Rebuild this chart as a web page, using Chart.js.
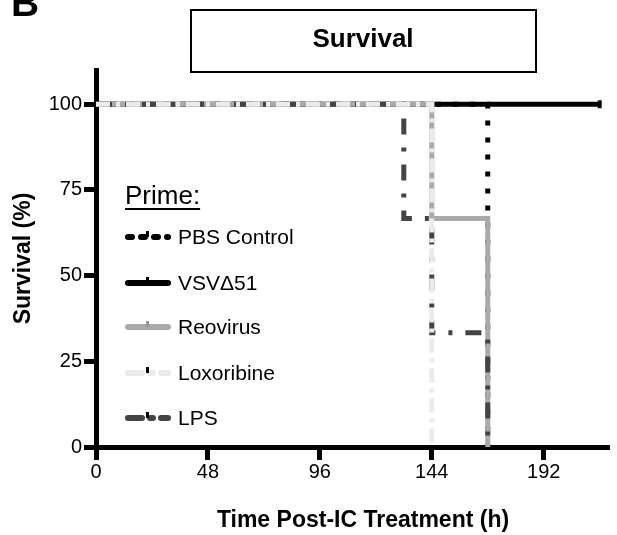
<!DOCTYPE html>
<html>
<head>
<meta charset="utf-8">
<script src="https://cdn.jsdelivr.net/npm/chart.js@4.4.1/dist/chart.umd.min.js"></script>
<style>
  html, body { margin: 0; padding: 0; background: #fff; }
  #wrap { width: 617px; height: 535px; position: relative; }
</style>
</head>
<body>
<div id="wrap"><canvas id="survChart" width="617" height="535"></canvas></div>
<script>
// survival curves (Kaplan-Meier style, % alive)
const seriesNames = ["PBS Control", "VSV\u039451", "Reovirus", "Loxoribine", "LPS"];
const pbsTime = [0, 168];
const pbsSurv = [100, 0];
const vsvTime = [0, 216];
const vsvSurv = [100, 100];
const reoTime = [0, 144, 168];
const reoSurv = [100, 66.7, 0];
const loxTime = [0, 144];
const loxSurv = [100, 0];
const lpsTime = [0, 132, 144, 168];
const lpsSurv = [100, 66.7, 33.3, 0];
const xTicks = [0, 48, 96, 144, 192];
const yTicks = [0, 25, 50, 75, 100];

function pts(t, s) {
    return t.map(function (v, i) { return { x: v, y: s[i] }; });
}

const styles = [
    { color: "#000000", dash: [5, 12], order: 4 },
    { color: "#000000", dash: [], order: 5 },
    { color: "#aaaaaa", dash: [], order: 3 },
    { color: "#ebebeb", dash: [14, 6, 4, 6], order: 1 },
    { color: "#444444", dash: [16, 13, 4, 13], order: 2 }
];
const allData = [pbsTime, vsvTime, reoTime, loxTime, lpsTime].map(function (t, i) {
    return pts(t, [pbsSurv, vsvSurv, reoSurv, loxSurv, lpsSurv][i]);
});

const datasets = seriesNames.map(function (name, i) {
    const st = styles[i];
    return {
        label: name,
        data: allData[i],
        borderColor: st.color,
        borderDash: st.dash,
        borderWidth: 5,
        stepped: true,
        fill: false,
        order: st.order,
        pointRadius: i === 1 ? [0, 4] : 0,
        pointStyle: "line",
        rotation: 90,
        pointBorderWidth: 4,
        pointBorderColor: st.color
    };
});

const FONT = "'Liberation Sans', Arial, sans-serif";

// title box, panel letter, x title and the in-plot legend
const decorPlugin = {
    id: "decor",
    afterDraw: function (chart) {
        const ctx = chart.ctx;
        ctx.save();
        ctx.fillStyle = "#000";
        ctx.font = "bold 39px " + FONT;
        ctx.textAlign = "left";
        ctx.textBaseline = "alphabetic";
        ctx.fillText("B", 11, 16);

        ctx.lineWidth = 2;
        ctx.strokeStyle = "#000";
        ctx.strokeRect(191, 10, 345, 62);
        ctx.font = "bold 26px " + FONT;
        ctx.textAlign = "center";
        ctx.textBaseline = "middle";
        ctx.fillText("Survival", 363, 40);

        ctx.font = "bold 23px " + FONT;
        ctx.fillText("Time Post-IC Treatment (h)", 363, 521);

        ctx.textAlign = "left";
        ctx.font = "26px " + FONT;
        ctx.textBaseline = "alphabetic";
        ctx.fillText("Prime:", 125, 204);
        const w = ctx.measureText("Prime:").width;
        ctx.fillRect(125, 208, w, 2);

        const rows = [237, 283, 327, 373, 418];
        ctx.font = "21px " + FONT;
        ctx.textBaseline = "middle";
        chart.data.datasets.forEach(function (ds, i) {
            const y = rows[i];
            ctx.strokeStyle = ds.borderColor;
            ctx.lineWidth = 6;
            ctx.lineCap = "round";
            ctx.setLineDash(i === 0 ? [4, 9] : (i === 3 || i === 4) ? [14, 8, 3, 8] : []);
            ctx.beginPath();
            ctx.moveTo(128, y);
            ctx.lineTo(168, y);
            ctx.stroke();
            ctx.setLineDash([]);
            ctx.lineCap = "butt";
            ctx.fillStyle = i === 2 ? "#999" : "#000";
            ctx.fillRect(146, y - 6, 3, 6);
            ctx.fillStyle = "#000";
            ctx.fillText(ds.label, 178, y + 1);
        });
        ctx.restore();
    }
};

new Chart(document.getElementById("survChart"), {
    type: "line",
    data: { datasets: datasets },
    plugins: [decorPlugin],
    options: {
        responsive: false,
        animation: false,
        layout: { padding: { top: 70, right: 0, left: 0, bottom: 0 } },
        plugins: { legend: { display: false }, tooltip: { enabled: false } },
        scales: {
            x: {
                type: "linear",
                min: 0,
                max: 220,
                afterBuildTicks: function (s) { s.ticks = xTicks.map(function (v) { return { value: v }; }); },
                afterFit: function (s) { s.height = 88; },
                border: { color: "#000", width: 5 },
                grid: { drawOnChartArea: false, tickLength: 13, tickWidth: 5, tickColor: "#000" },
                ticks: { color: "#000", padding: 0, maxRotation: 0, font: { size: 20, family: FONT } }
            },
            y: {
                min: 0,
                max: 110,
                afterBuildTicks: function (s) { s.ticks = yTicks.map(function (v) { return { value: v }; }); },
                afterFit: function (s) { s.width = 96; },
                border: { color: "#000", width: 5 },
                grid: { drawOnChartArea: false, tickLength: 12, tickWidth: 5, tickColor: "#000" },
                ticks: { color: "#000", padding: 2, font: { size: 20, family: FONT } },
                title: { display: true, text: "Survival (%)", color: "#000", padding: { top: 10, bottom: 0 }, font: { size: 23, weight: "bold", family: FONT } }
            }
        }
    }
});
</script>
</body>
</html>
